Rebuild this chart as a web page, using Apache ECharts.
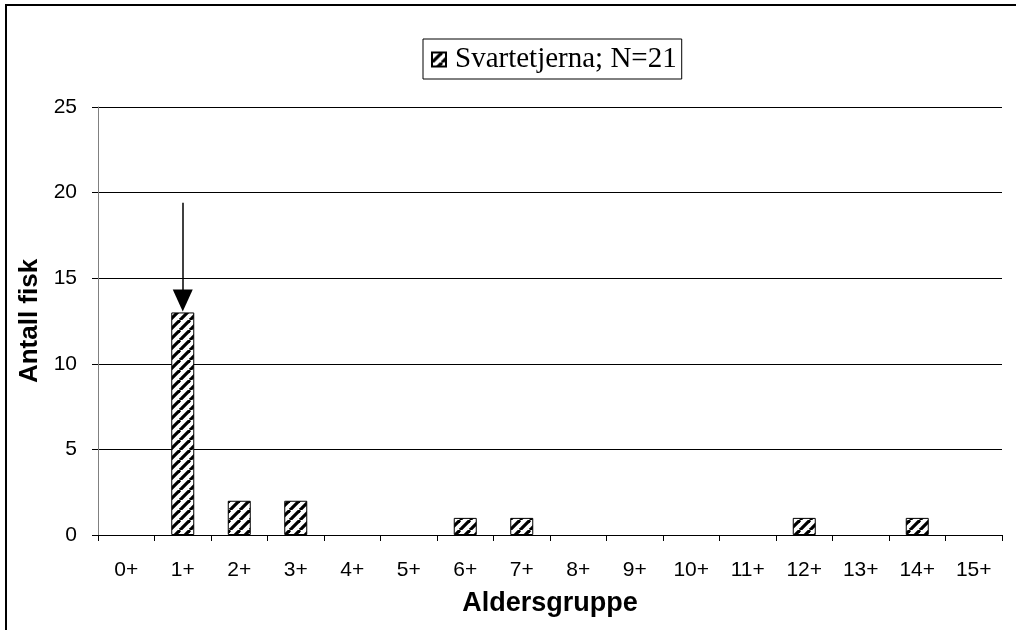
<!DOCTYPE html>
<html>
<head>
<meta charset="utf-8">
<script src="https://cdn.jsdelivr.net/npm/echarts@6/dist/echarts.min.js"></script>
<style>
html,body{margin:0;padding:0;background:#fff;}
#c{width:1016px;height:630px;}
</style>
</head>
<body>
<div id="c"></div>
<script>
const categories = ['0+','1+','2+','3+','4+','5+','6+','7+','8+','9+','10+','11+','12+','13+','14+','15+'];
const counts = [0,13,2,2,0,0,1,1,0,0,0,0,1,0,1,0];
const yTicks = [0,5,10,15,20,25];
const seriesName = 'Svartetjerna; N=21';
const arrowFrom = ['1+', 19.4];
const arrowTo = ['1+', 13.7];

function makePattern(){
  const s = 10;
  const cv = document.createElement('canvas');
  cv.width = s; cv.height = s;
  const g = cv.getContext('2d');
  g.fillStyle = '#fff'; g.fillRect(0,0,s,s);
  g.strokeStyle = '#000'; g.lineWidth = 3.2;
  for (let k=-1;k<=1;k++){
    g.beginPath();
    g.moveTo(k*s, s); g.lineTo(k*s + s, 0);
    g.stroke();
  }
  return cv;
}
const pat = makePattern();

const barData = counts.map(function(v){
  return v === 0 ? {value:v, itemStyle:{borderWidth:0, opacity:0}} : v;
});

const chart = echarts.init(document.getElementById('c'), null, {renderer:'canvas'});
chart.setOption({
  animation:false,
  backgroundColor:'#fff',
  graphic:[{type:'rect', shape:{x:6,y:5,width:1200,height:800}, style:{fill:'none', stroke:'#000', lineWidth:2}, silent:true}],
  legend:{
    data:[seriesName], top:39, left:423,
    itemWidth:14, itemHeight:14, itemGap:4,
    padding:[6,5,5,8],
    borderColor:'#000', borderWidth:1,
    textStyle:{fontFamily:'Liberation Serif', fontSize:29, color:'#000', padding:[0,0,0,4]},
    icon:'rect'
  },
  grid:{left:98, right:14, top:107, bottom:95, containLabel:false},
  xAxis:{
    type:'category', data:categories,
    axisLine:{lineStyle:{color:'#000', width:1}},
    axisTick:{show:true, length:6, lineStyle:{color:'#000'}},
    axisLabel:{fontFamily:'Liberation Sans', fontSize:21, color:'#000', margin:25},
    name:'Aldersgruppe', nameLocation:'middle', nameGap:55,
    nameTextStyle:{fontFamily:'Liberation Sans', fontSize:27, fontWeight:'bold', color:'#000'}
  },
  yAxis:{
    type:'value', min:0, max:25, interval:5,
    axisLine:{show:true, lineStyle:{color:'#808080', width:1}},
    axisTick:{show:true, length:6, lineStyle:{color:'#000'}},
    splitLine:{lineStyle:{color:'#000', width:1}},
    axisLabel:{fontFamily:'Liberation Sans', fontSize:21, color:'#000', margin:21,
      formatter:function(v){return yTicks.indexOf(v)>=0?String(v):'';}},
    name:'Antall fisk', nameLocation:'middle', nameGap:53, nameRotate:90,
    nameTextStyle:{fontFamily:'Liberation Sans', fontSize:26, fontWeight:'bold', color:'#000'}
  },
  series:[{
    name:seriesName, type:'bar', data:barData,
    barWidth:23,
    itemStyle:{color:{image:pat, repeat:'repeat'}, borderColor:'#000', borderWidth:1},
    markLine:{
      silent:true, animation:false,
      symbol:['none','triangle'], symbolSize:[20,22],
      label:{show:false},
      lineStyle:{color:'#000', width:1.5, type:'solid'},
      data:[[{coord:arrowFrom},{coord:arrowTo}]]
    }
  }]
});
</script>
</body>
</html>
